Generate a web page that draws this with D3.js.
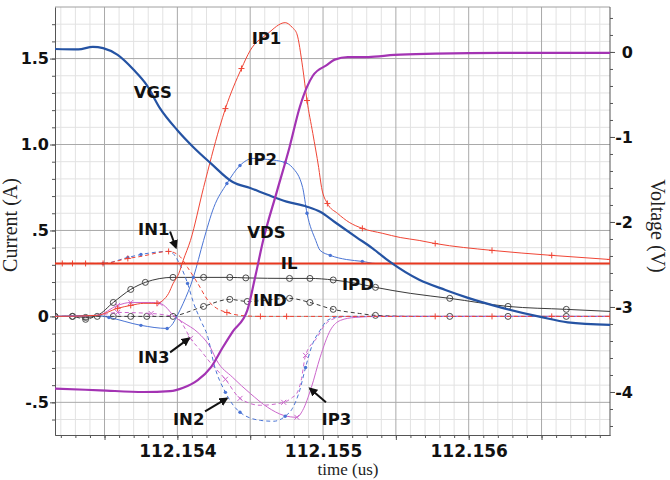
<!DOCTYPE html>
<html>
<head>
<meta charset="utf-8">
<script src="https://cdnjs.cloudflare.com/ajax/libs/d3/7.8.5/d3.min.js"></script>
<style>
  body { margin: 0; background: #fff; }
  svg { display: block; }
</style>
</head>
<body>
<svg id="chart" width="670" height="480"></svg>
<script>
"use strict";

// ---- data: [time (us), value, marker?] ----
// voltages (right axis)
const vgs = [
  [112.15316, 0.035], [112.15332, 0.03], [112.15342, 0.06], [112.15349, 0.045],
  [112.15359, -0.035], [112.1537, -0.21], [112.15379, -0.39], [112.15388, -0.66],
  [112.154, -0.92], [112.15411, -1.12], [112.15423, -1.31], [112.15438, -1.53],
  [112.1545, -1.6], [112.15462, -1.68], [112.15475, -1.76], [112.15489, -1.82],
  [112.15498, -1.88], [112.15508, -2.0], [112.15523, -2.18], [112.15534, -2.31],
  [112.15546, -2.47], [112.15566, -2.68], [112.15584, -2.8], [112.15599, -2.89],
  [112.15623, -3.01], [112.1565, -3.12], [112.15668, -3.18], [112.15697, -3.21]
];
const vds = [
  [112.15316, -3.96], [112.15347, -3.98], [112.15377, -4.0], [112.15395, -3.99],
  [112.15404, -3.95], [112.15414, -3.86], [112.15423, -3.71], [112.15431, -3.48],
  [112.15438, -3.29], [112.15448, -3.04], [112.15453, -2.68], [112.15459, -2.21],
  [112.15468, -1.66], [112.15477, -1.12], [112.15484, -0.65], [112.15489, -0.41],
  [112.15493, -0.28], [112.15503, -0.15], [112.15508, -0.09], [112.15517, -0.06],
  [112.15531, -0.06], [112.15549, -0.035], [112.15577, -0.02], [112.15623, -0.01],
  [112.15697, -0.01]
];
// currents (left axis)
const ip1 = [
  [112.15316, 0], [112.15345, 0.006], [112.15359, 0.047, 1], [112.15368, 0.064, 1],
  [112.15377, 0.076], [112.15386, 0.076, 1], [112.1539, 0.093], [112.15394, 0.134],
  [112.15397, 0.19], [112.15401, 0.25], [112.15404, 0.326], [112.15409, 0.442],
  [112.15418, 0.75], [112.15429, 1.1], [112.15433, 1.209, 1], [112.15444, 1.442, 1],
  [112.1545, 1.547], [112.15462, 1.645], [112.15474, 1.709], [112.15479, 1.68],
  [112.15482, 1.645], [112.15486, 1.45], [112.15489, 1.256, 1], [112.15493, 1.064],
  [112.15497, 0.866], [112.15499, 0.75], [112.15503, 0.657, 1], [112.1551, 0.599],
  [112.15518, 0.547], [112.15527, 0.512, 1], [112.15541, 0.483], [112.15553, 0.459],
  [112.15566, 0.442], [112.15577, 0.424, 1], [112.15616, 0.384, 1],
  [112.15657, 0.355, 1], [112.15697, 0.331, 1]
];
const il = [[112.15316, 0.308], [112.15697, 0.308]];
const ip2 = [
  [112.15316, 0], [112.15345, 0.006], [112.15353, -0.006, 1], [112.15375, -0.052, 1],
  [112.15393, -0.07, 1], [112.15396, -0.052], [112.154, 0.006], [112.15404, 0.076],
  [112.15411, 0.227, 1], [112.15418, 0.442], [112.15425, 0.634], [112.15434, 0.773, 1],
  [112.15443, 0.878, 1], [112.15452, 0.919], [112.15462, 0.913], [112.15474, 0.895, 1],
  [112.15479, 0.866], [112.15486, 0.75], [112.15489, 0.6, 1], [112.15495, 0.442],
  [112.15498, 0.384], [112.15505, 0.355, 1], [112.15516, 0.331], [112.15527, 0.32, 1],
  [112.15536, 0.308], [112.15697, 0.308]
];
const in1 = [
  [112.15316, 0.308], [112.15321, 0.308, 1], [112.15328, 0.308, 1], [112.15337, 0.308, 1],
  [112.15349, 0.308, 1], [112.15366, 0.337, 1], [112.15375, 0.349], [112.15394, 0.378, 1],
  [112.15401, 0.355], [112.15407, 0.285], [112.15414, 0.192], [112.15421, 0.093],
  [112.15427, 0.047], [112.15434, 0.023, 1], [112.15443, 0.006], [112.15457, 0, 1],
  [112.15475, 0, 1], [112.15488, 0], [112.15577, 0, 1], [112.15616, 0, 1],
  [112.15657, 0, 1], [112.15697, 0, 1]
];
const in2 = [
  [112.15316, 0.308], [112.15349, 0.308, 1], [112.15366, 0.343, 1], [112.15375, 0.36, 1],
  [112.15394, 0.378], [112.15397, 0.366], [112.15402, 0.297], [112.15407, 0.192, 1],
  [112.15411, 0.081], [112.15416, -0.023], [112.15421, -0.122], [112.15425, -0.273],
  [112.15433, -0.442, 1], [112.15443, -0.558, 1], [112.15457, -0.605], [112.15466, -0.61],
  [112.15474, -0.581, 1], [112.15479, -0.535], [112.15484, -0.43], [112.15488, -0.297, 1],
  [112.15493, -0.157], [112.15498, -0.081], [112.15503, -0.023], [112.15512, 0],
  [112.15697, 0]
];
const in3 = [
  [112.15316, 0], [112.15345, 0.006], [112.15359, 0.023, 1], [112.15382, 0.017, 1],
  [112.15397, 0], [112.154, -0.006], [112.15404, -0.052], [112.15409, -0.128, 1],
  [112.15416, -0.198], [112.15423, -0.273], [112.15433, -0.366, 1], [112.15443, -0.477, 1],
  [112.15457, -0.517], [112.15473, -0.5, 1], [112.15479, -0.471], [112.15482, -0.448],
  [112.15485, -0.372], [112.15488, -0.227, 1], [112.15496, -0.122], [112.15501, -0.052],
  [112.15508, -0.012], [112.15518, 0], [112.15697, 0]
];
const ip3 = [
  [112.15316, 0], [112.15345, 0.006], [112.15359, 0.064, 1], [112.15368, 0.081, 1],
  [112.15382, 0.081], [112.15388, 0.076, 1], [112.15393, 0.047], [112.15397, 0.006],
  [112.15404, -0.035], [112.15414, -0.093], [112.15423, -0.186], [112.15427, -0.256],
  [112.15438, -0.355], [112.1545, -0.448], [112.15462, -0.529], [112.15473, -0.576],
  [112.15482, -0.587, 1], [112.15486, -0.547], [112.15492, -0.413], [112.15498, -0.238],
  [112.15505, -0.081], [112.15512, -0.023], [112.15522, -0.006], [112.15539, 0],
  [112.15697, 0]
];
const ipd = [
  [112.15316, 0, 1], [112.15328, 0, 1], [112.15337, -0.006, 1], [112.15345, 0.006],
  [112.15356, 0.081, 1], [112.15368, 0.157, 1], [112.15378, 0.198, 1], [112.15397, 0.227, 1],
  [112.15418, 0.227, 1], [112.15436, 0.227, 1], [112.15447, 0.224, 1], [112.15477, 0.221, 1],
  [112.15491, 0.221, 1], [112.15507, 0.212, 1], [112.15523, 0.192], [112.15536, 0.169, 1],
  [112.1556, 0.134], [112.15587, 0.105, 1], [112.15627, 0.058, 1], [112.15667, 0.041, 1],
  [112.15697, 0.029]
];
const ind = [
  [112.15316, 0, 1], [112.15328, 0, 1], [112.15337, -0.017, 1], [112.15345, 0, 1],
  [112.15356, 0, 1], [112.15368, 0, 1], [112.15379, 0, 1], [112.15397, 0, 1],
  [112.154, 0.006], [112.15418, 0.058, 1], [112.15436, 0.099, 1], [112.15448, 0.087, 1],
  [112.15477, 0.105, 1], [112.15491, 0.081, 1], [112.15507, 0.041, 1], [112.15525, 0.017],
  [112.15536, 0.006, 1], [112.15566, 0], [112.15587, 0, 1], [112.15627, 0, 1],
  [112.15667, 0, 1], [112.15697, 0]
];

// ---- tick labels ----
const timeTicks = [112.154, 112.155, 112.156];
const timeLabels = ["112.154", "112.155", "112.156"];
const currentTicks = [-0.5, 0, 0.5, 1.0, 1.5];
const currentLabels = ["-.5", "0", ".5", "1.0", "1.5"];
const voltageTicks = [-4, -3, -2, -1, 0];
const voltageLabels = ["-4", "-3", "-2", "-1", "0"];

// ---- curve names, anchored in data units ----
const labelNames = ["IP1", "VGS", "IP2", "IN1", "VDS", "IL", "IND", "IPD", "IN3", "IN2", "IP3"];
const labelT = [112.15451, 112.1537, 112.15448, 112.15373, 112.15448, 112.15471, 112.15452, 112.15513, 112.15373, 112.15397, 112.15499];
const labelI = [1.587, 1.273, 0.878, 0.471, 0.459, 0.273, 0.058, 0.151, -0.273, -0.634, -0.634];
// arrows: [t0, i0, t1, i1]
const arrows = [
  [112.15395, 0.494, 112.15399, 0.401],
  [112.15395, -0.209, 112.15408, -0.128],
  [112.15419, -0.552, 112.15434, -0.477],
  [112.15502, -0.5, 112.15491, -0.419]
];

const svg = d3.select('#chart');
const plot = {left: 55, right: 610, top: 7, bottom: 435};

const x = d3.scaleLinear([112.15316, 112.15697], [plot.left, plot.right]);
const yI = d3.scaleLinear([-0.69, 1.8], [plot.bottom, plot.top]);
const yV = d3.scaleLinear([-4.506, 0.529], [plot.bottom, plot.top]);

svg.append('rect').attr('width', 670).attr('height', 480).attr('fill', '#fff');

// grid
let kt0 = Math.ceil(x.domain()[0] * 1e4), kt1 = Math.floor(x.domain()[1] * 1e4);
let tGrid = d3.range(kt0, kt1 + 1).map(k => ({v: k / 1e4, major: k % 5 === 0}));
let iGrid = d3.range(-6, 18).map(k => ({v: k / 10, major: k % 5 === 0}));

let grid = svg.append('g');
grid.selectAll('.vg').data(tGrid.filter(d => !d.major)).join('line')
  .attr('x1', d => x(d.v)).attr('x2', d => x(d.v))
  .attr('y1', plot.top).attr('y2', plot.bottom)
  .attr('stroke', '#e2e2e2');
grid.selectAll('.hg').data(iGrid.filter(d => !d.major)).join('line')
  .attr('y1', d => yI(d.v)).attr('y2', d => yI(d.v))
  .attr('x1', plot.left).attr('x2', plot.right)
  .attr('stroke', '#e2e2e2');
grid.selectAll('.vgm').data(tGrid.filter(d => d.major)).join('line')
  .attr('x1', d => x(d.v)).attr('x2', d => x(d.v))
  .attr('y1', plot.top).attr('y2', plot.bottom)
  .attr('stroke', '#a9a9a9');
grid.selectAll('.hgm').data(iGrid.filter(d => d.major)).join('line')
  .attr('y1', d => yI(d.v)).attr('y2', d => yI(d.v))
  .attr('x1', plot.left).attr('x2', plot.right)
  .attr('stroke', '#a9a9a9');
grid.append('line').attr('x1', plot.left).attr('x2', plot.right)
  .attr('y1', plot.top).attr('y2', plot.top).attr('stroke', '#a0a0a0');

// axes
function styleAxis(g, size) {
  g.select('.domain').attr('stroke', '#555');
  g.selectAll('.tick line').attr('stroke', '#555');
  g.attr('font-family', 'DejaVu Sans').attr('font-weight', 'bold')
    .attr('font-size', size).attr('fill', '#111');
  g.selectAll('.tick text').attr('fill', '#111');
}

let bx = svg.append('g').attr('transform', `translate(0,${plot.bottom})`);
bx.append('g').call(d3.axisBottom(x).tickValues(tGrid.map(d => d.v)).tickSize(3).tickSizeOuter(0).tickFormat(''))
  .call(styleAxis, 17);
bx.append('g').call(d3.axisBottom(x).tickValues(tGrid.filter(d => d.major).map(d => d.v))
    .tickSize(5).tickSizeOuter(0)
    .tickFormat(d => {
      const i = timeTicks.findIndex(v => Math.abs(v - d) < 1e-9);
      return i >= 0 ? timeLabels[i] : '';
    }))
  .call(styleAxis, 17)
  .call(g => g.selectAll('.tick text').attr('y', 22).attr('dy', null));

let lx = svg.append('g').attr('transform', `translate(${plot.left},0)`);
lx.append('g').call(d3.axisLeft(yI).tickValues(iGrid.map(d => d.v)).tickSize(3).tickSizeOuter(0).tickFormat(''))
  .call(styleAxis, 16);
lx.append('g').call(d3.axisLeft(yI).tickValues(currentTicks).tickSize(5).tickPadding(1).tickSizeOuter(0)
    .tickFormat((d, i) => currentLabels[i]))
  .call(styleAxis, 16)
  .call(g => g.select('.domain').remove());

let vMinor = d3.range(-22, 3).map(k => k / 5);
let rx = svg.append('g').attr('transform', `translate(${plot.right},0)`);
rx.append('g').call(d3.axisRight(yV).tickValues(vMinor).tickSize(3).tickSizeOuter(0).tickFormat(''))
  .call(styleAxis, 16)
  .call(g => g.select('.domain').attr('d', `M0,${plot.top}V${plot.bottom}`));
rx.append('g').call(d3.axisRight(yV).tickValues(voltageTicks).tickSize(5).tickSizeOuter(0)
    .tickFormat((d, i) => voltageLabels[i]))
  .call(styleAxis, 16)
  .call(g => g.select('.domain').remove())
  .call(g => g.selectAll('.tick text').attr('text-anchor', 'end').attr('x', 23));

// axis titles
svg.append('text').attr('transform', 'translate(17,225) rotate(-90)')
  .attr('text-anchor', 'middle').attr('font-family', 'Liberation Serif')
  .attr('font-size', 20).attr('fill', '#222').text('Current (A)');
svg.append('text').attr('transform', 'translate(651,226) rotate(90)')
  .attr('text-anchor', 'middle').attr('font-family', 'Liberation Serif')
  .attr('font-size', 20).attr('fill', '#222').text('Voltage (V)');
svg.append('text').attr('x', 348).attr('y', 475)
  .attr('text-anchor', 'middle').attr('font-family', 'Liberation Serif')
  .attr('font-size', 17).attr('fill', '#222').text('time (us)');

// curves
const series = [
  {data: ipd, y: yI, color: '#3a3a3a', w: 1, dash: null, mark: 'circle'},
  {data: ind, y: yI, color: '#3a3a3a', w: 1, dash: '4,3', mark: 'circle'},
  {data: in3, y: yI, color: '#cc66cc', w: 1, dash: '4,3', mark: 'cross'},
  {data: ip3, y: yI, color: '#cc66cc', w: 1, dash: null, mark: 'cross'},
  {data: in2, y: yI, color: '#4a74d4', w: 1, dash: '4,3', mark: 'dot'},
  {data: ip2, y: yI, color: '#4a74d4', w: 1, dash: null, mark: 'dot'},
  {data: in1, y: yI, color: '#f04535', w: 1, dash: '4,3', mark: 'plus'},
  {data: ip1, y: yI, color: '#f04535', w: 1, dash: null, mark: 'plus'},
  {data: il, y: yI, color: '#e8381f', w: 2, dash: null, mark: null},
  {data: vgs, y: yV, color: '#2553a3', w: 2.2, dash: null, mark: null},
  {data: vds, y: yV, color: '#a333b3', w: 2.2, dash: null, mark: null}
];

svg.append('clipPath').attr('id', 'clip').append('rect')
  .attr('x', plot.left).attr('y', plot.top)
  .attr('width', plot.right - plot.left).attr('height', plot.bottom - plot.top);

let curves = svg.append('g').attr('clip-path', 'url(#clip)');
const symbols = {
  plus: 'M-3,0H3M0,-3V3',
  cross: 'M-2.5,-2.5L2.5,2.5M-2.5,2.5L2.5,-2.5'
};

for (let s of series) {
  let line = d3.line().x(d => x(d[0])).y(d => s.y(d[1])).curve(d3.curveMonotoneX);
  curves.append('path').datum(s.data)
    .attr('d', line).attr('fill', 'none')
    .attr('stroke', s.color).attr('stroke-width', s.w)
    .attr('stroke-dasharray', s.dash);
  let pts = s.data.filter(d => d[2] === 1);
  if (s.mark === 'circle') {
    curves.append('g').selectAll('circle').data(pts).join('circle')
      .attr('cx', d => x(d[0])).attr('cy', d => s.y(d[1])).attr('r', 3)
      .attr('fill', 'none').attr('stroke', s.color).attr('stroke-width', 0.9);
  } else if (s.mark === 'dot') {
    curves.append('g').selectAll('circle').data(pts).join('circle')
      .attr('cx', d => x(d[0])).attr('cy', d => s.y(d[1])).attr('r', 1.7)
      .attr('fill', s.color);
  } else if (s.mark) {
    curves.append('g').selectAll('path').data(pts).join('path')
      .attr('transform', d => `translate(${x(d[0])},${s.y(d[1])})`)
      .attr('d', symbols[s.mark]).attr('stroke', s.color).attr('stroke-width', 1);
  }
}

// curve labels
svg.append('g').attr('font-family', 'DejaVu Sans').attr('font-weight', 'bold')
  .attr('font-size', 16.5).attr('fill', '#111')
  .selectAll('text').data(labelNames).join('text')
  .attr('x', (d, i) => x(labelT[i])).attr('y', (d, i) => yI(labelI[i]))
  .text(d => d);

svg.append('defs').append('marker').attr('id', 'arrow')
  .attr('viewBox', '0 0 10 10').attr('refX', 8).attr('refY', 5)
  .attr('markerWidth', 4.5).attr('markerHeight', 4.5).attr('orient', 'auto')
  .append('path').attr('d', 'M0,0L10,5L0,10z').attr('fill', '#111');

svg.append('g').selectAll('line').data(arrows).join('line')
  .attr('x1', d => x(d[0])).attr('y1', d => yI(d[1]))
  .attr('x2', d => x(d[2])).attr('y2', d => yI(d[3]))
  .attr('stroke', '#111').attr('stroke-width', 2)
  .attr('marker-end', 'url(#arrow)');
</script>
</body>
</html>
